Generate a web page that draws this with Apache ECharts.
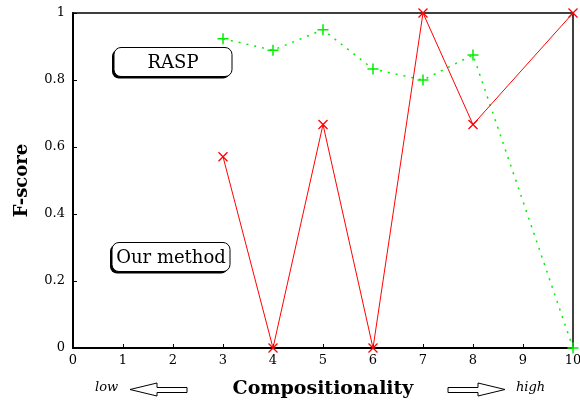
<!DOCTYPE html>
<html>
<head>
<meta charset="utf-8">
<script src="https://cdn.jsdelivr.net/npm/echarts@6/dist/echarts.min.js"></script>
<style>
  html, body { margin: 0; padding: 0; background: #fff; }
  #chart { width: 580px; height: 401px; }
</style>
</head>
<body>
<div id="chart"></div>
<script>
// compositionality levels (no level 9 in the data)
const levels = [3, 4, 5, 6, 7, 8, 10];
const ourMethod = [0.571, 0, 0.667, 0, 1, 0.667, 1];
const rasp = [0.923, 0.889, 0.95, 0.833, 0.8, 0.875, 0];
const xTicks = [0, 1, 2, 3, 4, 5, 6, 7, 8, 9, 10];
const yTicks = [0, 0.2, 0.4, 0.6, 0.8, 1];

const serif = '"DejaVu Serif", "Liberation Serif", serif';
const crossPath = 'path://M0,0L10,10M10,0L0,10';
const plusPath = 'path://M5,0L5,10M0,5L10,5';

const chart = echarts.init(document.getElementById('chart'));

function labelBox(x, y, w, h, text) {
  return {
    type: 'group',
    left: x,
    top: y,
    children: [
      {
        type: 'rect',
        shape: { x: -2, y: 2, width: w, height: h, r: 7 },
        style: { fill: '#000' }
      },
      {
        type: 'rect',
        shape: { x: 0, y: 0, width: w, height: h, r: 7 },
        style: { fill: '#fff', stroke: '#000', lineWidth: 1 }
      },
      {
        type: 'text',
        x: w / 2,
        y: h / 2 + 1,
        style: {
          text: text,
          font: '18px ' + serif,
          fill: '#000',
          align: 'center',
          verticalAlign: 'middle'
        }
      }
    ]
  };
}

function arrow(x, y, dir) {
  // body 30px, head 27px, pointing left (-1) or right (1)
  let pts;
  if (dir < 0) {
    pts = [[0, 6.5], [27, 0], [27, 4.5], [57, 4.5], [57, 9.5], [27, 9.5], [27, 13]];
  } else {
    pts = [[57, 6.5], [30, 0], [30, 4.5], [0, 4.5], [0, 9.5], [30, 9.5], [30, 13]];
  }
  return {
    type: 'polygon',
    x: x,
    y: y,
    shape: { points: pts },
    style: { fill: '#fff', stroke: '#000', lineWidth: 1 }
  };
}

const option = {
  animation: false,
  grid: {
    left: 73,
    right: 7,
    top: 13,
    bottom: 53,
    outerBoundsMode: 'none',
    containLabel: false,
    show: true,
    borderColor: '#000',
    borderWidth: 1.5,
    backgroundColor: 'transparent'
  },
  xAxis: {
    type: 'value',
    min: 0,
    max: 10,
    interval: 1,
    name: 'Compositionality',
    nameLocation: 'middle',
    nameGap: 32,
    nameTextStyle: { fontFamily: serif, fontWeight: 'bold', fontSize: 19, color: '#000' },
    axisLine: { show: true, lineStyle: { color: '#000', width: 2 } },
    axisTick: { show: true, inside: true, length: 4, lineStyle: { color: '#000' } },
    axisLabel: {
      fontFamily: serif, fontSize: 13, color: '#000', margin: 6,
      customValues: xTicks
    },
    splitLine: { show: false }
  },
  yAxis: {
    type: 'value',
    min: 0,
    max: 1,
    interval: 0.2,
    name: 'F-score',
    nameLocation: 'middle',
    nameGap: 42,
    nameTextStyle: { fontFamily: serif, fontWeight: 'bold', fontSize: 18, color: '#000' },
    axisLine: { show: true, lineStyle: { color: '#000', width: 2 } },
    axisTick: { show: true, inside: true, length: 4, lineStyle: { color: '#000' } },
    axisLabel: {
      fontFamily: serif, fontSize: 13, color: '#000', margin: 8,
      customValues: yTicks
    },
    splitLine: { show: false }
  },
  series: [
    {
      name: 'Our method',
      type: 'line',
      clip: false,
      data: levels.map((x, i) => [x, ourMethod[i]]),
      symbol: crossPath,
      symbolSize: 9,
      showAllSymbol: true,
      lineStyle: { color: '#ff0000', width: 1 },
      itemStyle: { color: '#ff0000', borderColor: '#ff0000', borderWidth: 1.3 },
      z: 3
    },
    {
      name: 'RASP',
      type: 'line',
      clip: false,
      data: levels.map((x, i) => [x, rasp[i]]),
      symbol: plusPath,
      symbolSize: 11,
      showAllSymbol: true,
      lineStyle: { color: '#00ee00', width: 1.5, type: [2, 6] },
      itemStyle: { color: '#00ee00', borderColor: '#00ee00', borderWidth: 1.5 },
      z: 2
    }
  ],
  graphic: [
    labelBox(112, 47, 118, 29, 'RASP'),
    labelBox(110, 242, 118, 29, 'Our method'),
    {
      type: 'text',
      left: 95,
      top: 381,
      style: { text: 'low', font: 'italic 13px ' + serif, fill: '#000' }
    },
    arrow(130, 383, -1),
    arrow(448, 383, 1),
    {
      type: 'text',
      left: 516,
      top: 381,
      style: { text: 'high', font: 'italic 13px ' + serif, fill: '#000' }
    }
  ]
};

chart.setOption(option);
</script>
</body>
</html>
